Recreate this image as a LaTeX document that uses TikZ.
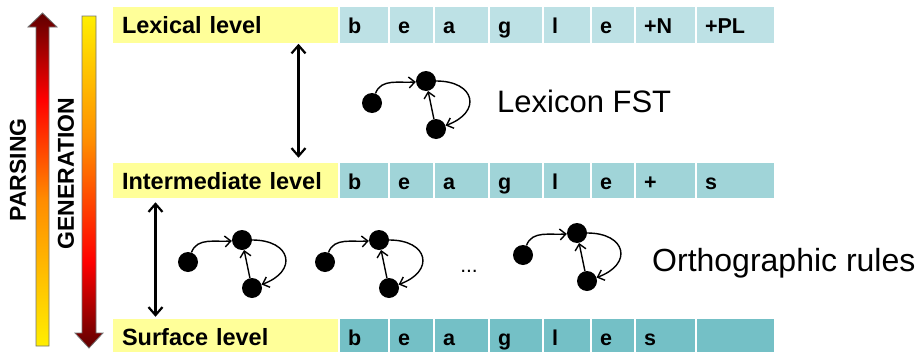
\documentclass[tikz,border=0pt]{standalone}
\usepackage{fontspec}
\setmainfont{Liberation Sans}
\usetikzlibrary{arrows.meta,calc}

\definecolor{lblyellow}{RGB}{255,255,153}
\definecolor{rowa}{RGB}{189,225,229}
\definecolor{rowb}{RGB}{160,212,216}
\definecolor{rowc}{RGB}{116,192,198}
\definecolor{gYel}{RGB}{255,238,0}
\definecolor{gOra}{RGB}{255,140,0}
\definecolor{gRed}{RGB}{255,0,0}
\definecolor{gDark}{RGB}{96,0,0}

\pgfdeclareverticalshading{parsingshade}{100bp}{color(0bp)=(gYel); color(25bp)=(gYel); color(47bp)=(gOra); color(62bp)=(gRed); color(75bp)=(gDark); color(100bp)=(gDark)}
\pgfdeclareverticalshading{genshade}{100bp}{color(0bp)=(gDark); color(25bp)=(gDark); color(38bp)=(gRed); color(56bp)=(gOra); color(75bp)=(gYel); color(100bp)=(gYel)}

\tikzset{
  lbl/.style={fill=lblyellow, draw=white, line width=1pt, minimum width=226pt,
    text width=206pt, align=left, inner xsep=10pt, inner ysep=0pt,
    minimum height=36.5pt, text height=17pt, text depth=0pt,
    font=\bfseries\fontsize{23.5}{24}\selectfont},
  cell/.style={draw=white, line width=1.2pt, inner xsep=9pt, inner ysep=0pt,
    align=left, minimum height=36.5pt, text height=17pt, text depth=0pt,
    font=\bfseries\fontsize{21.5}{22}\selectfont},
  sidetxt/.style={rotate=90, font=\bfseries\fontsize{23}{24}\selectfont, inner sep=0pt},
  bigtxt/.style={font=\fontsize{31}{32}\selectfont, inner sep=0pt, anchor=base west},
  dbl/.style={line width=2.2pt, {Straight Barb[length=8pt,width=14pt]}-{Straight Barb[length=8pt,width=14pt]}},
  state/.style={circle, fill=black, minimum size=20pt, inner sep=0pt},
  tr/.style={line width=1.4pt, -{Straight Barb[length=6pt,width=11pt]}},
  bigarrow/.style={draw=black!55, line width=0.8pt},
}

\newcommand{\fstgraph}[3]{%
  \node[state] (#1a) at (#2,#3) {};
  \node[state] (#1b) at (#2+54,#3-22) {};
  \node[state] (#1c) at (#2+64,#3+26) {};
  \draw[tr] (#1a) to[out=70,in=185] (#1b);
  \draw[tr] (#1b) to[out=0,in=20,looseness=2.2] (#1c);
  \draw[tr] (#1c) -- (#1b);
}

\begin{document}
\begin{tikzpicture}[x=1pt,y=-1pt]
\useasboundingbox (0,0) rectangle (919,351);

% big side arrows
\path[bigarrow, shading=parsingshade] (36,346) -- (36,27) -- (28,27) -- (42.5,13) -- (57,27) -- (49,27) -- (49,346) -- cycle;
\path[bigarrow, shading=genshade] (82,16) -- (96,16) -- (96,333) -- (103,333) -- (89,348) -- (75,333) -- (82,333) -- cycle;
\node[sidetxt] (parsing) at (18,170) {PARSING};
\node[sidetxt] (generation) at (66,173.5) {GENERATION};

% level labels
\node[lbl] (lex) at (225,25) {Lexical level};
\node[lbl] (int) at (225,180.5) {Intermediate level};
\node[lbl] (surf) at (225,336.5) {Surface level};

% cells
\def\xe{{339,389,434,489,543,591,635,696,775}}
\foreach \r/\yc/\col/\letters in {1/25/rowa/{b,e,a,g,l,e,+N,+PL},2/180.5/rowb/{b,e,a,g,l,e,+,s},3/336.5/rowc/{b,e,a,g,l,e,s,{}}}{
  \foreach \t [count=\i] in \letters {
    \pgfmathsetmacro\xl{\xe[\i-1]}
    \pgfmathsetmacro\xr{\xe[\i]}
    \pgfmathsetmacro\xc{(\xl+\xr)/2}
    \pgfmathsetmacro\tw{\xr-\xl-18}
    \node[cell, fill=\col, text width=\tw pt] (r\r c\i) at (\xc,\yc) {\t};
  }
}

% double arrows
\draw[dbl] ($(lex.south east)+(-40,0)$) -- ($(int.north east)+(-40,-4)$);
\draw[dbl] ($(int.south west)+(44,3)$) -- ($(surf.north west)+(44,-1)$);

% FSTs
\fstgraph{lx}{372}{103}
\node[bigtxt] (lexfst) at (497,112) {Lexicon FST};

\fstgraph{oa}{188}{262}
\fstgraph{ob}{325}{262}
\fstgraph{oc}{523}{255}
\node[font=\fontsize{21}{22}\selectfont, inner sep=0pt, anchor=base] (dots) at (469,272) {...};
\node[bigtxt, font=\fontsize{32}{33}\selectfont] (ortho) at (652,271) {Orthographic rules};
\end{tikzpicture}
\end{document}
